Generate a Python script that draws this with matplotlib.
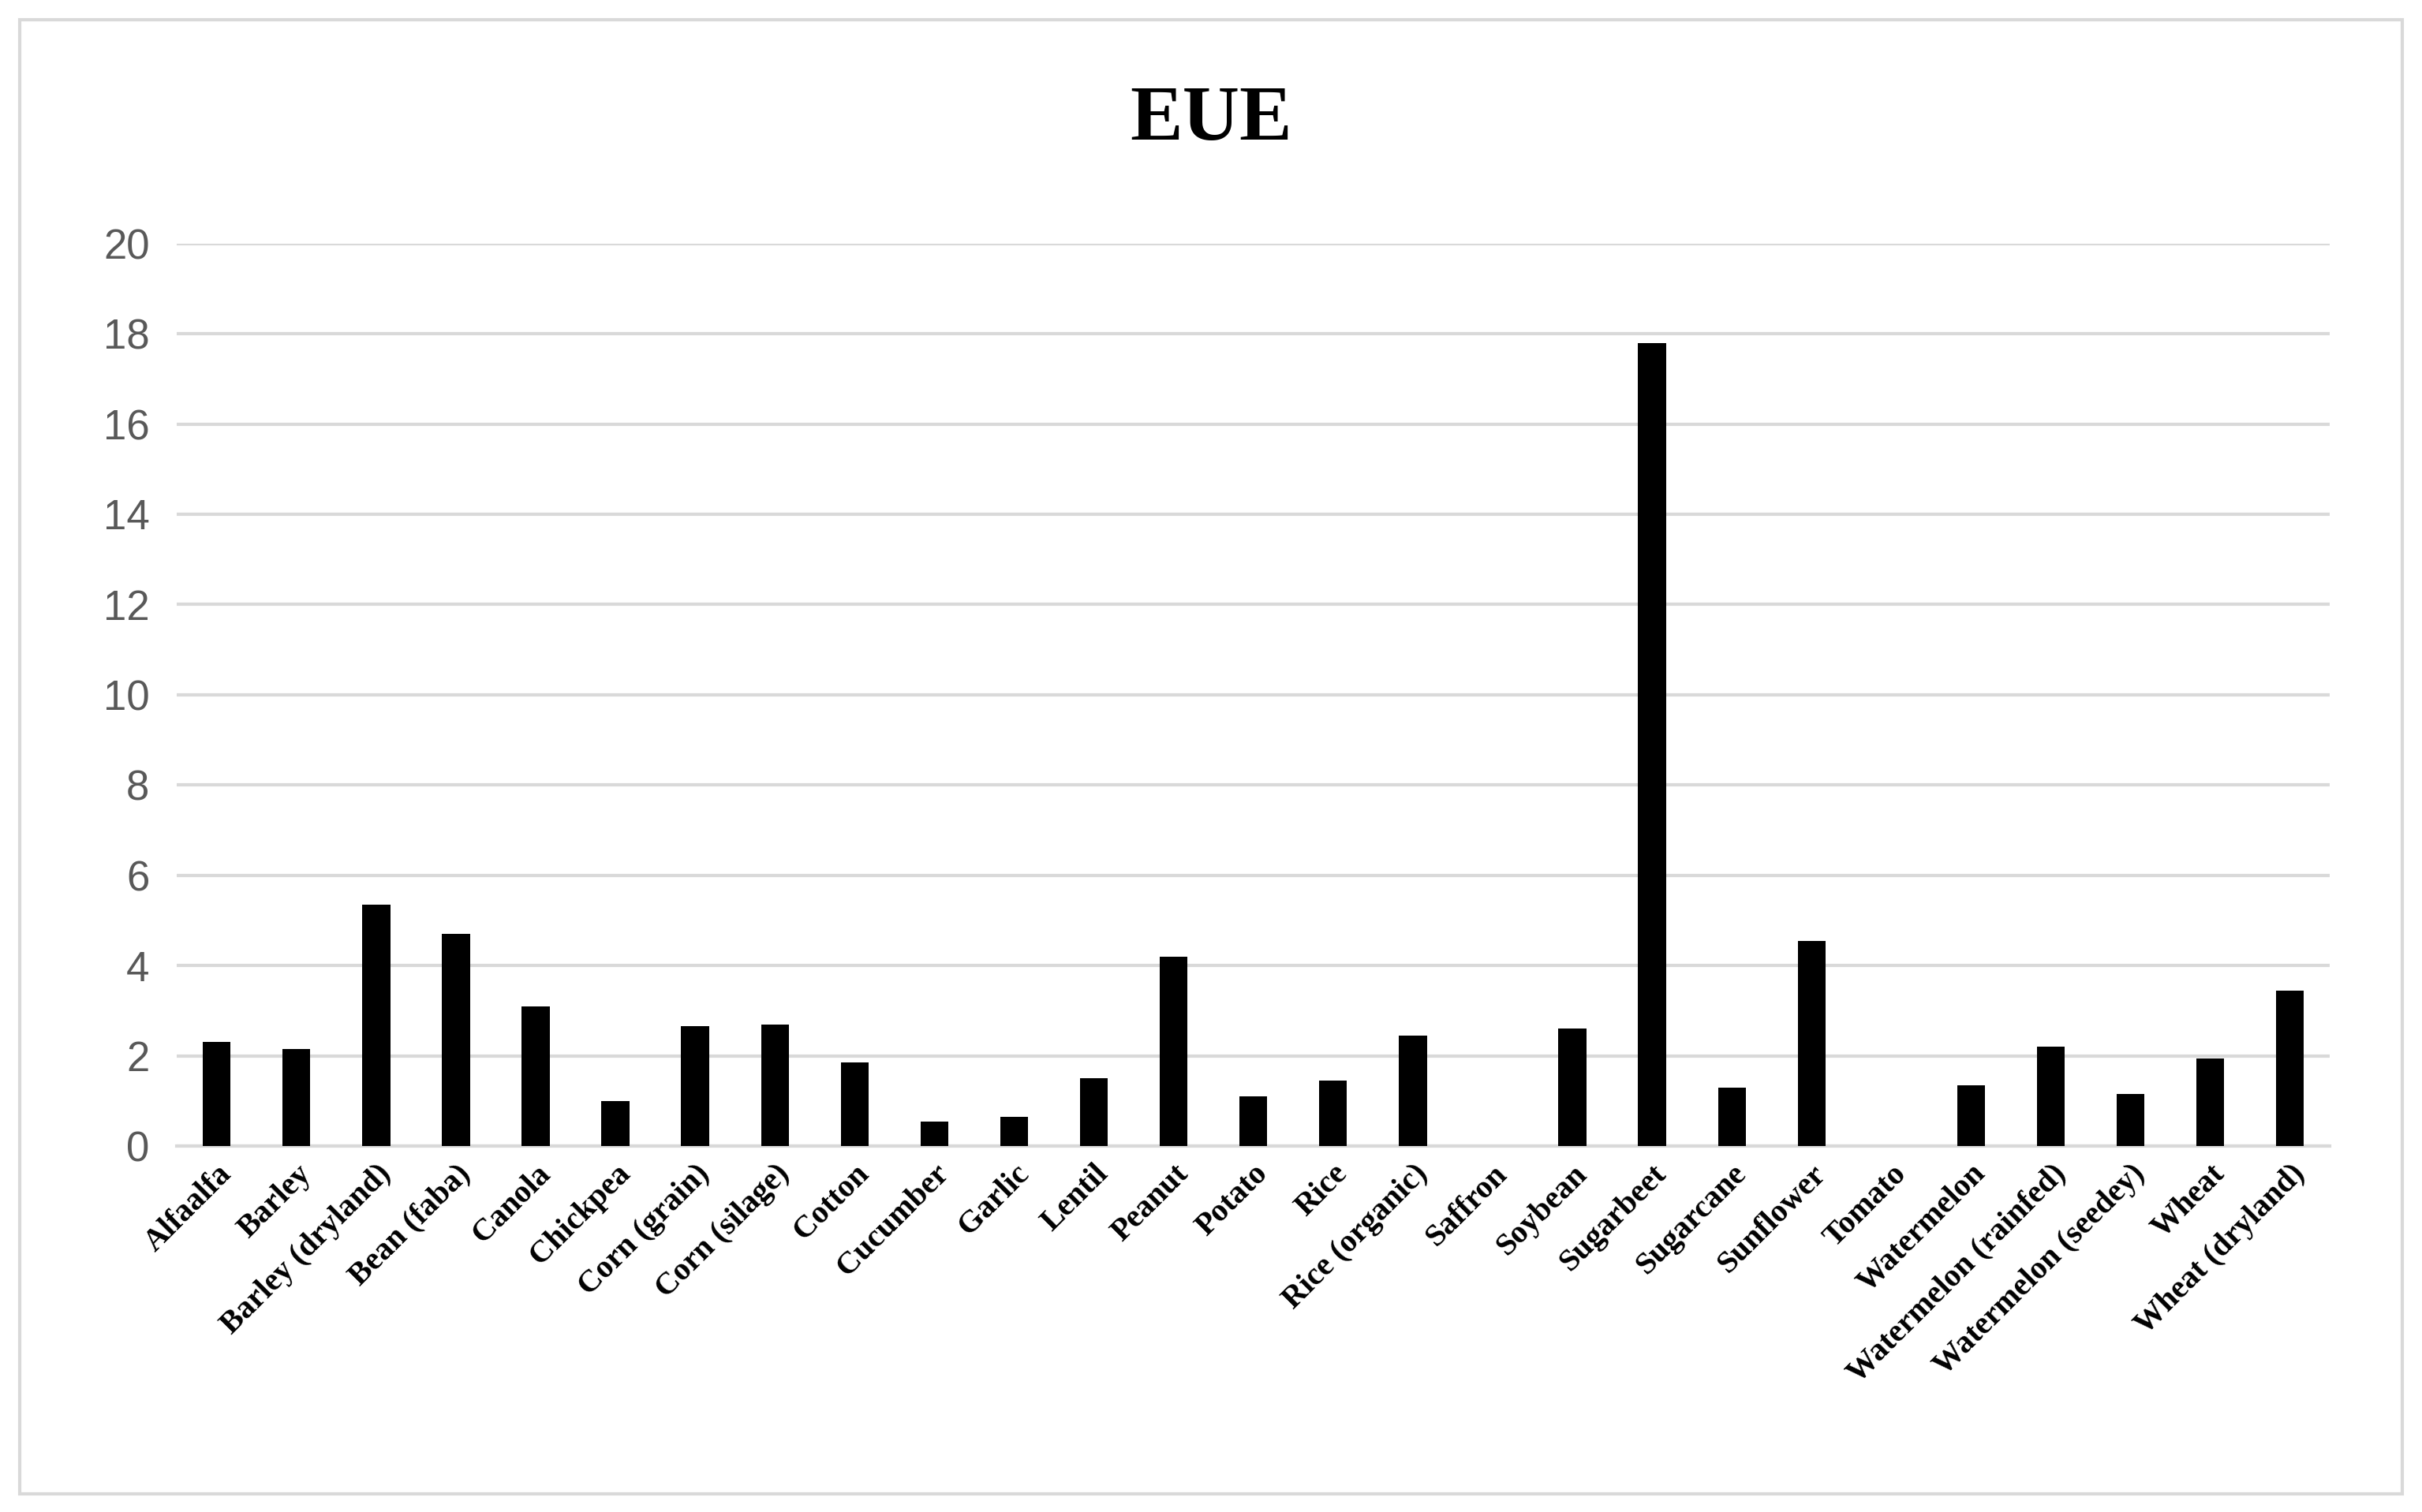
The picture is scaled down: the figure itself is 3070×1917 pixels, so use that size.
import matplotlib.pyplot as plt
import numpy as np
from matplotlib.patches import Rectangle

crops = ["Alfaalfa", "Barley", "Barley (dryland)", "Bean (faba)", "Canola", "Chickpea",
         "Corn (grain)", "Corn (silage)", "Cotton", "Cucumber", "Garlic", "Lentil",
         "Peanut", "Potato", "Rice", "Rice (organic)", "Saffron", "Soybean", "Sugarbeet",
         "Sugarcane", "Sunflower", "Tomato", "Watermelon", "Watermelon (rainfed)",
         "Watermelon (seedey)", "Wheat", "Wheat (dryland)"]
eue = [2.3, 2.15, 5.35, 4.7, 3.1, 1.0, 2.65, 2.7, 1.85, 0.55, 0.65, 1.5, 4.2, 1.1,
       1.45, 2.45, 0, 2.6, 17.8, 1.3, 4.55, 0, 1.35, 2.2, 1.15, 1.95, 3.45]

fig = plt.figure(figsize=(30.7, 19.17), dpi=100)
ax = fig.add_axes([0.073, 0.242, 0.889, 0.597])
fig.patches.append(Rectangle((0.008, 0.012), 0.984, 0.975, transform=fig.transFigure,
                             fill=False, edgecolor="#d9d9d9", linewidth=3))

x = np.arange(len(crops))
ax.bar(x, eue, width=0.35, color="black", zorder=3)
ax.set_xlim(-0.5, len(crops) - 0.5)
ax.set_ylim(0, 20)
ax.set_yticks(range(0, 21, 2))
ax.yaxis.grid(True, color="#d9d9d9", linewidth=3, zorder=0)
for s in ["top", "right", "left"]:
    ax.spines[s].set_visible(False)
ax.spines["bottom"].set_color("#d9d9d9")
ax.spines["bottom"].set_linewidth(3)
ax.tick_params(axis="y", length=0, labelsize=38, labelcolor="#595959", pad=25)
ax.tick_params(axis="x", length=0, pad=12)
for t in ax.get_yticklabels():
    t.set_family("Liberation Sans")
ax.set_xticks(x)
ax.set_xticklabels(crops, rotation=45, ha="right", rotation_mode="anchor",
                   family="Liberation Serif", fontweight="bold", fontsize=29)
fig.text(0.5, 0.92, "EUE", ha="center", va="center", family="Liberation Serif",
         fontweight="bold", fontsize=72)

fig.savefig("out.png")
